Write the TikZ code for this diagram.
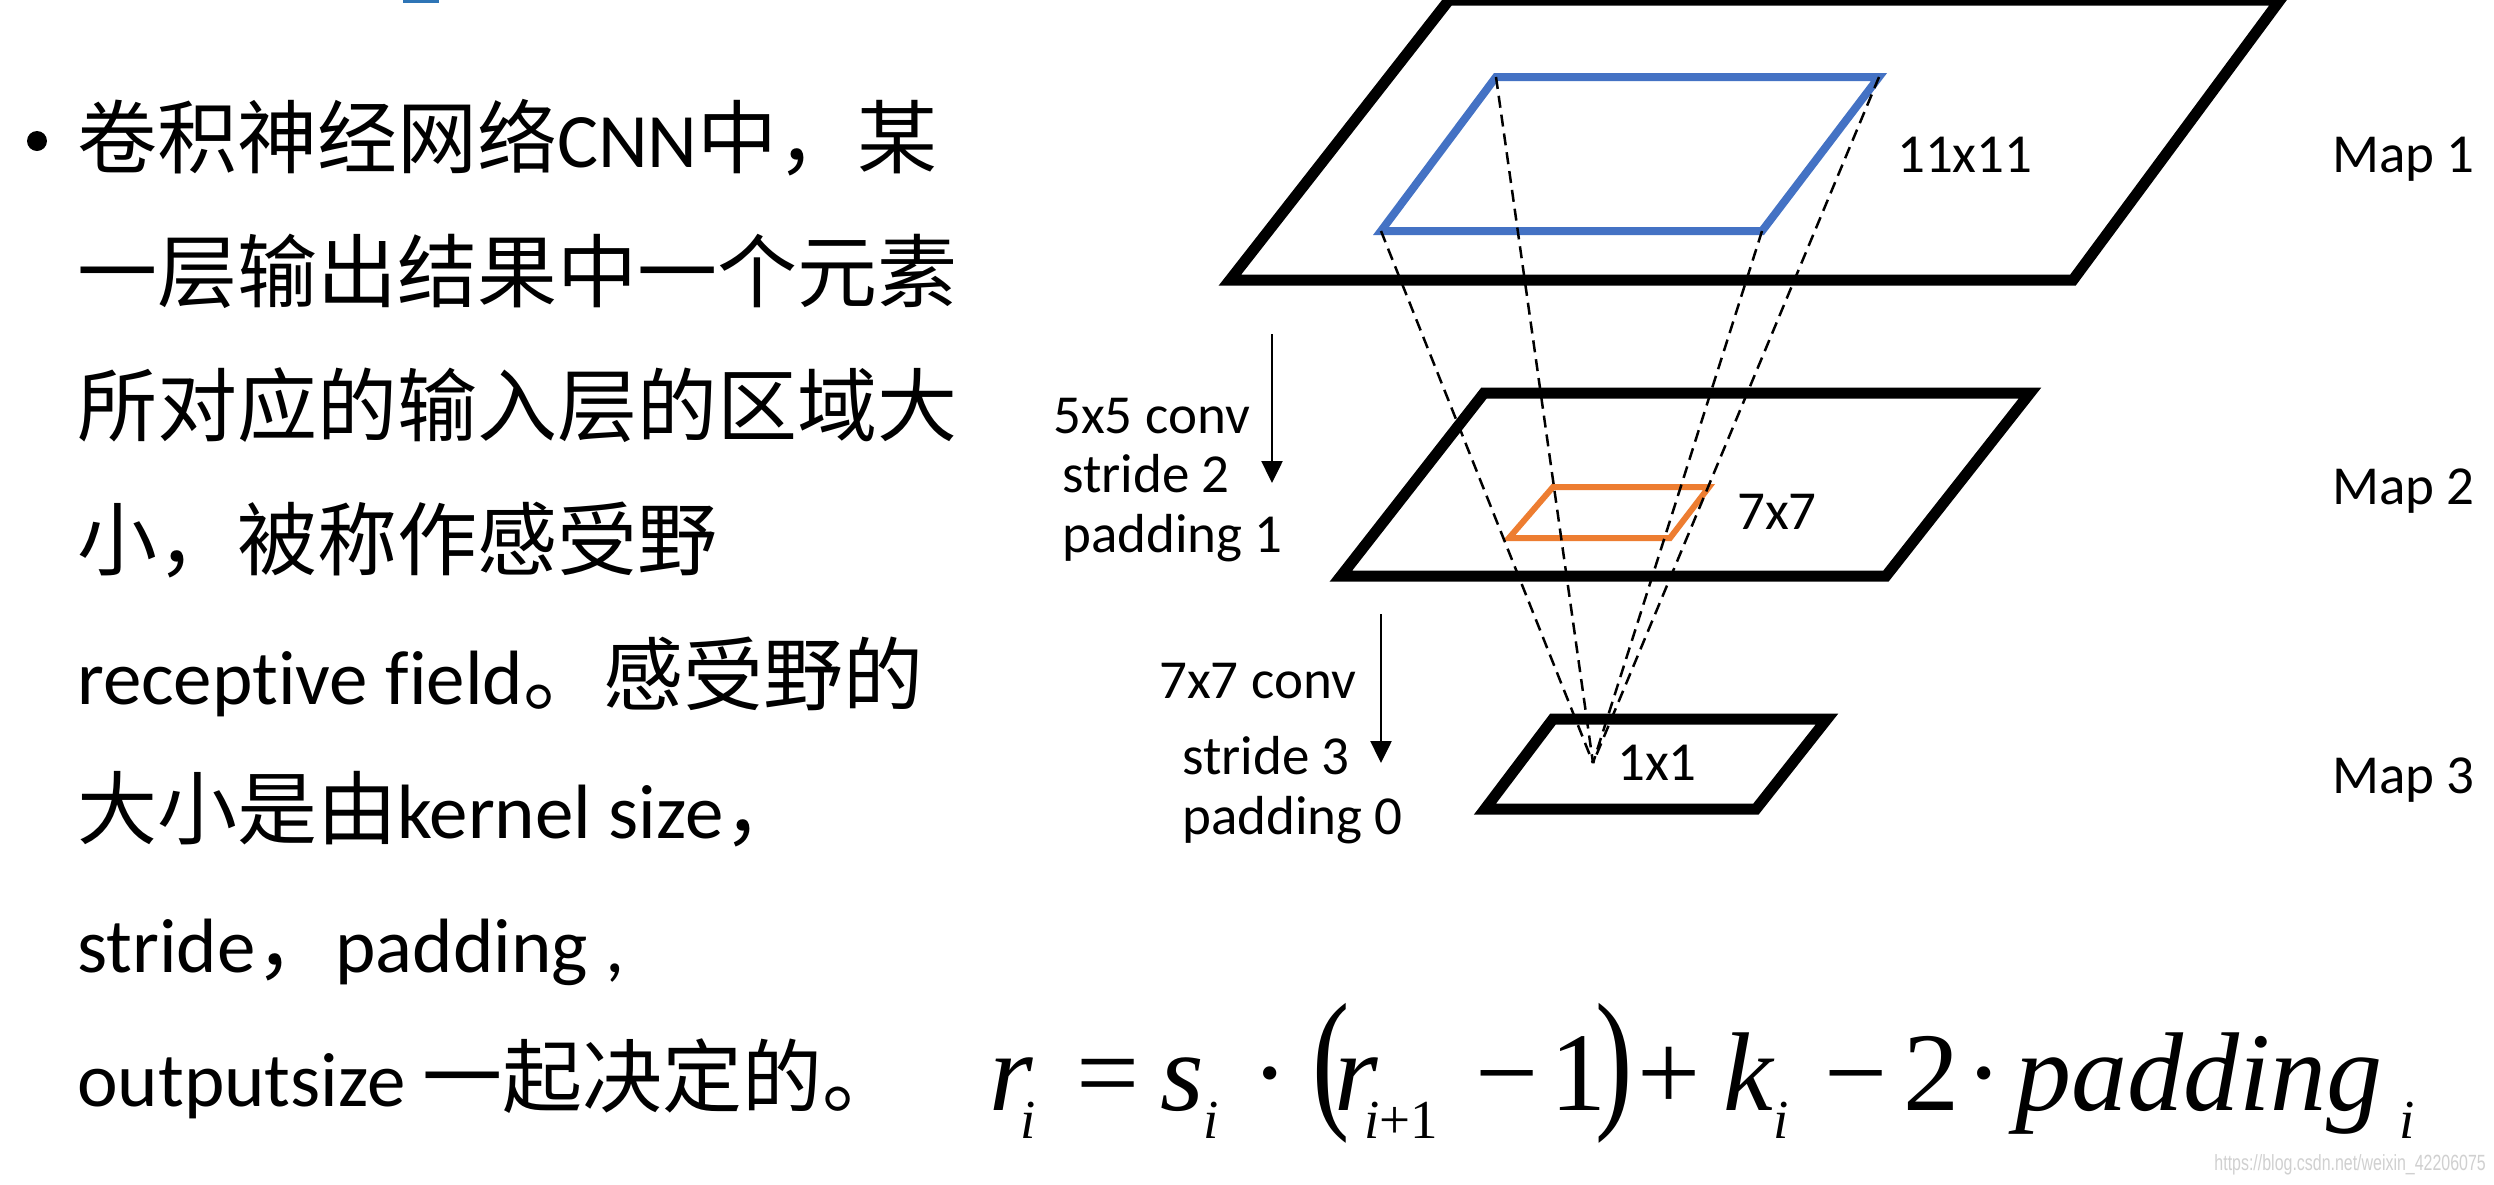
\documentclass[tikz,border=0pt]{standalone}
\usepackage{fontspec}
\usepackage{graphicx}
\setmainfont[Ligatures=NoCommon]{Carlito}
\newfontfamily\cjk{Noto Sans CJK SC}
\newfontfamily\fserif{Liberation Serif}
\newfontfamily\wmfont{Liberation Sans}
\usetikzlibrary{arrows.meta}
\definecolor{mblue}{HTML}{4472C4}
\definecolor{morange}{HTML}{ED7D31}
\definecolor{tblue}{HTML}{2E75B6}
\definecolor{wmgray}{HTML}{D0D0D0}
\newcommand\zh[1]{{\fontsize{80}{96}\cjk #1}}
\newcommand\fpc[2]{\rlap{\hspace*{#1pt}#2}}
\newcommand\fsb[1]{\raisebox{-28pt}{\fontsize{55}{66}\selectfont #1}}
\begin{document}
\begin{tikzpicture}[x=1pt,y=-1pt,
  txt/.style={inner sep=0pt, anchor=base west, font=\fontsize{77}{92}\selectfont},
  lbl/.style={inner sep=0pt, anchor=base west, font=\fontsize{55}{66}\selectfont},
  mapline/.style={line width=11pt, line join=miter},
  fm/.style={inner sep=0pt, anchor=base west, font=\fontsize{112}{134}\fserif},
  rays/.style={line width=2.5pt, dash pattern=on 12pt off 7pt},
  convarrow/.style={line width=2.5pt, -{Triangle[width=21pt,length=22pt]}}
]
\fill[white] (0,0) rectangle (2494,1184);
\useasboundingbox (0,0) rectangle (2494,1184);

% small blue mark at top
\fill[tblue] (403,0) rectangle (439,3);

% left text
\node[circle, fill=black, minimum size=20pt, inner sep=0pt] (bul) at (37,141) {};
\node[txt] (l1) at (77,167) {\zh{卷积神经网络}CNN\zh{中，某}};
\node[txt] (l2) at (77,301) {\zh{一层输出结果中一个元素}};
\node[txt] (l3) at (77,435) {\zh{所对应的输入层的区域大}};
\node[txt] (l4) at (77,569) {\zh{小，被称作感受野}};
\node[txt] (l5) at (77,704) {receptive field\zh{。感受野的}};
\node[txt] (l6) at (77,838) {\zh{大小是由}kernel size\zh{，}};
\node[txt] (l7) at (77,972) {stride\zh{，}padding ,};
\node[txt] (l8) at (77,1106) {outputsize \zh{一起决定的。}};

% maps
\coordinate (m1a) at (1449,0);   \coordinate (m1b) at (2280,0);
\coordinate (m1c) at (2073,280); \coordinate (m1d) at (1230,280);
\coordinate (m2a) at (1484,393); \coordinate (m2b) at (2030,393);
\coordinate (m2c) at (1886,576); \coordinate (m2d) at (1341,576);
\coordinate (m3a) at (1553,719); \coordinate (m3b) at (1827,719);
\coordinate (m3c) at (1756,809); \coordinate (m3d) at (1485,809);
\coordinate (ba) at (1496,77);   \coordinate (bb) at (1879,77);
\coordinate (bc) at (1762,231);  \coordinate (bd) at (1381,231);
\coordinate (oa) at (1553,487);  \coordinate (ob) at (1709,487);
\coordinate (oc) at (1670,538);  \coordinate (od) at (1509,538);
\coordinate (apex) at (1593,763);

\draw[mapline] (m1a) -- (m1b) -- (m1c) -- (m1d) -- cycle;
\draw[mapline] (m2a) -- (m2b) -- (m2c) -- (m2d) -- cycle;
\draw[mapline] (m3a) -- (m3b) -- (m3c) -- (m3d) -- cycle;
\draw[mblue, line width=8pt, line join=miter] (ba) -- (bb) -- (bc) -- (bd) -- cycle;
\draw[morange, line width=6pt, line join=miter] (oa) -- (ob) -- (oc) -- (od) -- cycle;

\draw[rays] (ba) -- (apex);
\draw[rays] (bb) -- (apex);
\draw[rays] (bc) -- (apex);
\draw[rays] (bd) -- (apex);

% labels
\node[lbl] (s11) at (1897,172) {11x11};
\node[lbl] (s7) at (1737,529) {7x7};
\node[lbl] (s1) at (1617,780) {1x1};
\node[lbl] (map1) at (2332,172) {Map 1};
\node[lbl] (map2) at (2332,504) {Map 2};
\node[lbl] (map3) at (2332,793) {Map 3};
\node[lbl] (c1a) at (1053,433) {5x5 conv};
\node[lbl] (c1b) at (1062,492) {stride 2};
\node[lbl] (c1c) at (1062,552) {padding 1};
\node[lbl] (c2a) at (1159,698) {7x7 conv};
\node[lbl] (c2b) at (1182,774) {stride 3};
\node[lbl] (c2c) at (1182,834) {padding 0};

\coordinate (a1s) at (1272,334); \coordinate (a1e) at (1272,483);
\coordinate (a2s) at (1381,614); \coordinate (a2e) at (1381,763);
\draw[convarrow] (a1s) -- (a1e);
\draw[convarrow] (a2s) -- (a2e);

% formula
\node[fm] (formula) at (989,1110) {%
\fpc{0}{\itshape r}%
\fpc{31}{\fsb{\itshape i}}%
\fpc{87}{=}%
\fpc{171}{\itshape s}%
\fpc{214}{\fsb{\itshape i}}%
\fpc{262}{·}%
\fpc{323}{\scalebox{1}[1.38]{(}}%
\fpc{345}{\itshape r}%
\fpc{375}{\fsb{\itshape i\upshape +1}}%
\fpc{486}{−}%
\fpc{561}{1}%
\fpc{606}{\scalebox{1}[1.38]{)}}%
\fpc{648}{+}%
\fpc{734}{\itshape k}%
\fpc{784}{\fsb{\itshape i}}%
\fpc{835}{−}%
\fpc{914}{2}%
\fpc{976}{·}%
\fpc{1026}{\itshape padding}%
\fpc{1410}{\fsb{\itshape i}}%
\hspace*{1430pt}};

% watermark
\node[inner sep=0pt, anchor=base east, text=wmgray, font=\fontsize{22}{26}\wmfont] (wm) at (2486,1170) {\scalebox{0.725}[1]{https://blog.csdn.net/weixin\_42206075}};
\end{tikzpicture}
\end{document}
